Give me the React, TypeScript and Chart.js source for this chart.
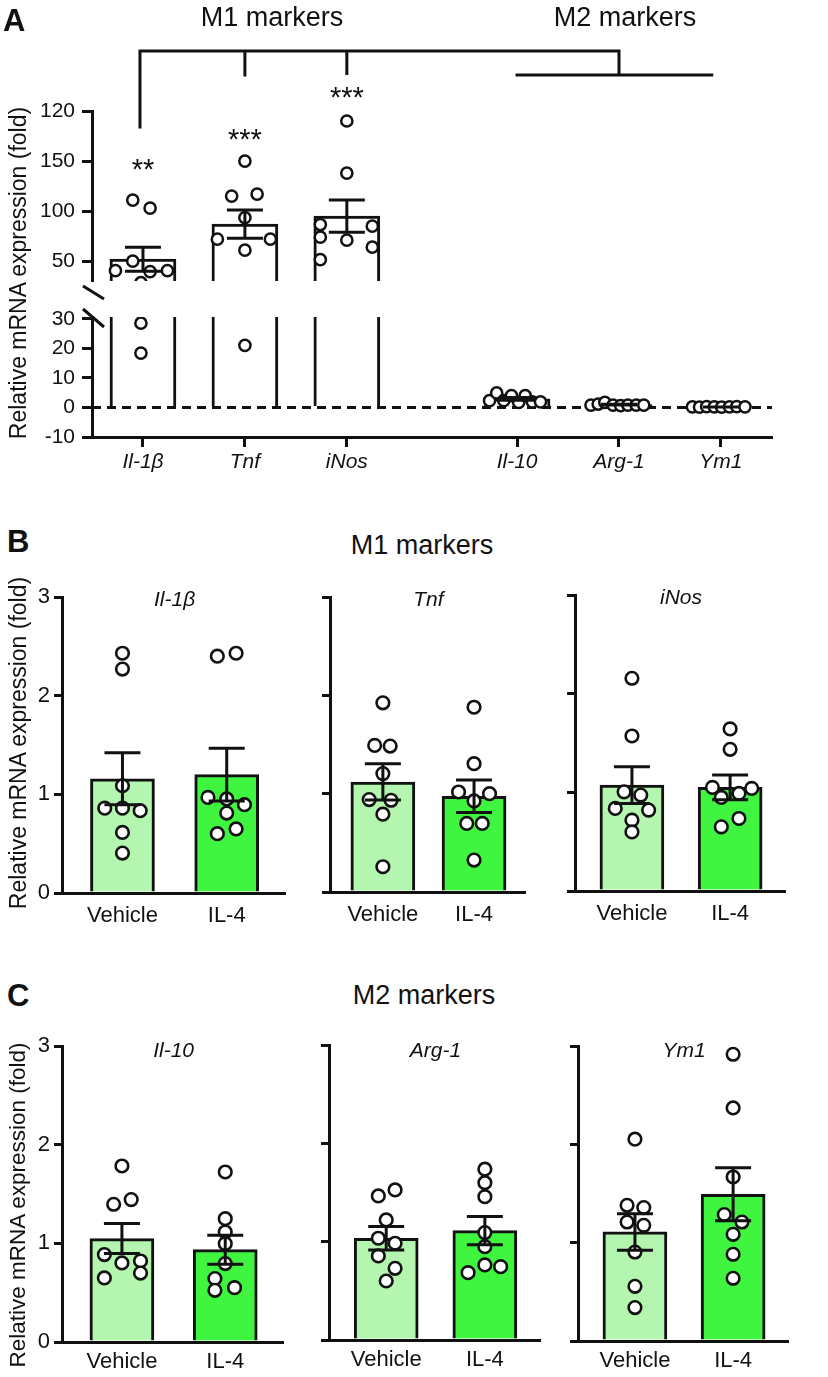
import React, { useEffect, useRef } from 'react';
import { Chart, registerables } from 'chart.js';

Chart.register(...registerables);

const FONT = '"Liberation Sans", Arial, Helvetica, sans-serif';
const INK = '#111111';
const VEHICLE_FILL = '#b4f6af';
const IL4_FILL = '#40f540';

// ---------------- Panel A data ----------------
const genesA = ['Il-1β', 'Tnf', 'iNos', 'Il-10', 'Arg-1', 'Ym1'];
const geneSlotsA = [1, 2, 3, 4.67, 5.67, 6.67];
const meansA = [52, 87, 95, 2.9, 0.93, 0.15];
const semsA = [12, 14, 16, 0.45, 0.12, 0.03];
const il1bA = [111, 103, 50, 40.5, 39.5, 40.5, 28.5, 18.4];
const tnfA = [150, 115, 117, 93.5, 72, 72, 61, 21];
const inosA = [190, 138, 86.6, 85, 74, 71, 64, 51.5];
const il10A = [2.3, 4.9, 2.3, 4.0, 1.7, 4.0, 1.9, 1.9];
const arg1A = [0.8, 1.15, 1.7, 0.8, 0.6, 0.8, 0.8, 0.8];
const ym1A = [0.2, 0.1, 0.3, 0.2, 0.1, 0.2, 0.3, 0.2];
const il1bJitA = [-0.1, 0.07, -0.1, -0.27, 0.07, 0.24, -0.02, -0.02];
const tnfJitA = [0, -0.13, 0.12, 0, -0.27, 0.25, 0, 0];
const inosJitA = [0, 0, -0.26, 0.25, -0.26, 0, 0.25, -0.26];
const il10JitA = [-0.27, -0.2, -0.13, -0.055, 0.016, 0.08, 0.15, 0.23];
const arg1JitA = [-0.275, -0.204, -0.139, -0.058, 0.016, 0.087, 0.169, 0.243];
const ym1JitA = [-0.28, -0.21, -0.14, -0.065, 0.007, 0.084, 0.155, 0.236];
const upperTicksA = [50, 100, 150, 200];
const upperTickLabelsA = ['50', '100', '150', '120'];
const lowerTicksA = [-10, 0, 10, 20, 30];
const starsA = ['**', '***', '***'];
const starLevelsA = [148.5, 179, 220];
const bracketTopLevelA = 260;
const bracketDropLevelsA = [184, 236, 237.5];
const m2BracketLevelA = 236;
const m2BracketEndSlotA = 6.58;

// ---------------- Panels B & C data ----------------
const groupsBC = ['Vehicle', 'IL-4'];
const groupSlotsBC = [1, 2];
const yTicksBC = [0, 1, 2, 3];

const il1bB_vehicle = [2.43, 2.27, 1.087, 0.86, 0.86, 0.834, 0.614, 0.405];
const il1bB_il4 = [2.4, 2.43, 0.969, 0.953, 0.895, 0.81, 0.649, 0.601];
const il1bB_vehJit = [0, 0, 0, -0.17, 0, 0.17, 0, 0];
const il1bB_il4Jit = [-0.09, 0.09, -0.18, 0, 0.17, 0, 0.09, -0.09];
const il1bB_mean = [1.158, 1.199];
const il1bB_sem = [0.264, 0.267];

const tnfB_vehicle = [1.924, 1.491, 1.484, 1.204, 0.94, 0.933, 0.791, 0.257];
const tnfB_il4 = [1.879, 1.305, 1.017, 1.0, 0.926, 0.697, 0.697, 0.325];
const tnfB_vehJit = [0, -0.09, 0.08, 0, -0.15, 0.09, 0, 0];
const tnfB_il4Jit = [0, 0, -0.17, 0.17, 0, -0.08, 0.09, 0];
const tnfB_mean = [1.119, 0.974];
const tnfB_sem = [0.184, 0.166];

const inosB_vehicle = [2.156, 1.571, 1.005, 0.972, 0.837, 0.82, 0.718, 0.599];
const inosB_il4 = [1.643, 1.436, 1.05, 1.04, 0.989, 0.948, 0.735, 0.65];
const inosB_vehJit = [0, 0, -0.08, 0.09, -0.17, 0.17, 0, 0];
const inosB_il4Jit = [0, 0, -0.18, 0.22, 0.09, -0.09, 0.09, -0.09];
const inosB_mean = [1.073, 1.05];
const inosB_sem = [0.186, 0.126];

const il10C_vehicle = [1.784, 1.443, 1.396, 0.886, 0.801, 0.821, 0.649, 0.699];
const il10C_il4 = [1.723, 1.25, 1.115, 0.997, 0.795, 0.643, 0.551, 0.524];
const il10C_vehJit = [0, 0.09, -0.08, -0.17, 0, 0.18, -0.17, 0.18];
const il10C_il4Jit = [0, 0, 0, 0, 0, -0.1, 0.09, -0.1];
const il10C_mean = [1.048, 0.936];
const il10C_sem = [0.152, 0.147];

const arg1C_vehicle = [1.526, 1.465, 1.221, 1.035, 0.984, 0.855, 0.729, 0.6];
const arg1C_il4 = [1.737, 1.6, 1.458, 1.092, 0.949, 0.763, 0.746, 0.685];
const arg1C_vehJit = [0.09, -0.08, 0, -0.08, 0.09, -0.08, 0.09, 0];
const arg1C_il4Jit = [0, 0, 0, 0, 0, 0, 0.16, -0.17];
const arg1C_mean = [1.035, 1.112];
const arg1C_sem = [0.119, 0.144];

const ym1C_vehicle = [2.052, 1.38, 1.357, 1.21, 1.176, 0.905, 0.556, 0.34];
const ym1C_il4 = [2.916, 2.37, 1.668, 1.286, 1.21, 1.085, 0.882, 0.638];
const ym1C_vehJit = [0, -0.08, 0.09, -0.08, 0.09, 0, 0, 0];
const ym1C_il4Jit = [0, 0, 0, -0.09, 0.09, 0, 0, 0];
const ym1C_mean = [1.109, 1.492];
const ym1C_sem = [0.186, 0.27];

// ---------------- helpers ----------------
const scatterPoints = (slot: number, values: number[], jitter: number[]) =>
  values.map((v, i) => ({ x: slot + jitter[i], y: v }));

const fixY = (w: number) => (s: any) => {
  s.width = w;
  s.paddingTop = 0; s.paddingBottom = 0; s.paddingLeft = 0; s.paddingRight = 0;
};
const fixX = (h: number) => (s: any) => {
  s.height = h;
  s.paddingTop = 0; s.paddingBottom = 0; s.paddingLeft = 0; s.paddingRight = 0;
};

const axisBorder = { display: true, color: INK, width: 3 };

function errorBarsPlugin(slots: number[], means: number[], sems: number[], cap: number) {
  return {
    id: 'errorBars',
    afterDatasetsDraw(chart: any) {
      const { ctx, chartArea, scales } = chart;
      const x = scales.x, y = scales.y;
      ctx.save();
      ctx.beginPath();
      ctx.rect(chartArea.left, chartArea.top, chartArea.right - chartArea.left, chartArea.bottom - chartArea.top);
      ctx.clip();
      ctx.strokeStyle = INK;
      ctx.lineWidth = 3;
      slots.forEach((s, i) => {
        const cx = x.getPixelForValue(s);
        const hi = y.getPixelForValue(means[i] + sems[i]);
        const lo = y.getPixelForValue(means[i] - sems[i]);
        ctx.beginPath();
        ctx.moveTo(cx, hi); ctx.lineTo(cx, lo);
        ctx.moveTo(cx - cap, hi); ctx.lineTo(cx + cap, hi);
        ctx.moveTo(cx - cap, lo); ctx.lineTo(cx + cap, lo);
        ctx.stroke();
      });
      ctx.restore();
    },
  };
}

function geneTitlePlugin(text: string, offset: number) {
  return {
    id: 'geneTitle',
    afterDraw(chart: any) {
      const { ctx, chartArea, scales } = chart;
      const cx = scales.x.getPixelForValue((groupSlotsBC[0] + groupSlotsBC[1]) / 2);
      ctx.save();
      ctx.font = `italic 21px ${FONT}`;
      ctx.fillStyle = INK;
      ctx.textAlign = 'center';
      ctx.textBaseline = 'alphabetic';
      ctx.fillText(text, cx, chartArea.top + offset);
      ctx.restore();
    },
  };
}

const zeroLinePlugin = {
  id: 'zeroLine',
  afterDatasetDraw(chart: any, args: any) {
    if (args.meta.type !== 'bar') return;
    const { ctx, chartArea, scales } = chart;
    const py = scales.y.getPixelForValue(0);
    ctx.save();
    ctx.strokeStyle = INK;
    ctx.lineWidth = 3;
    ctx.setLineDash([9, 6]);
    ctx.beginPath();
    ctx.moveTo(chartArea.left, py);
    ctx.lineTo(chartArea.right, py);
    ctx.stroke();
    ctx.restore();
  },
};

const breakMarksPlugin = {
  id: 'breakMarks',
  afterDraw(chart: any) {
    const { ctx, chartArea } = chart;
    const l = chartArea.left, t = chartArea.top;
    ctx.save();
    ctx.strokeStyle = INK;
    ctx.lineWidth = 3;
    ctx.beginPath();
    ctx.moveTo(l - 9, t - 31); ctx.lineTo(l + 12, t - 18);
    ctx.moveTo(l - 9, t - 8); ctx.lineTo(l + 12, t + 10);
    ctx.stroke();
    ctx.restore();
  },
};

const bracketsPlugin = {
  id: 'brackets',
  afterDraw(chart: any) {
    const { ctx, scales } = chart;
    const x = scales.x, y = scales.y;
    const top = y.getPixelForValue(bracketTopLevelA);
    const m2Level = y.getPixelForValue(m2BracketLevelA);
    const m2Center = x.getPixelForValue((geneSlotsA[3] + m2BracketEndSlotA + 0.09) / 2);
    ctx.save();
    ctx.strokeStyle = INK;
    ctx.lineWidth = 3;
    ctx.lineCap = 'square';
    ctx.beginPath();
    ctx.moveTo(x.getPixelForValue(geneSlotsA[0]) - 3, top);
    ctx.lineTo(m2Center, top);
    for (let i = 0; i < 3; i++) {
      const px = x.getPixelForValue(geneSlotsA[i]) - (i === 0 ? 3 : 0);
      ctx.moveTo(px, top);
      ctx.lineTo(px, y.getPixelForValue(bracketDropLevelsA[i]));
    }
    ctx.moveTo(m2Center, top);
    ctx.lineTo(m2Center, m2Level);
    ctx.moveTo(x.getPixelForValue(geneSlotsA[3]), m2Level);
    ctx.lineTo(x.getPixelForValue(m2BracketEndSlotA), m2Level);
    ctx.stroke();
    ctx.fillStyle = INK;
    ctx.font = `29px ${FONT}`;
    ctx.textAlign = 'center';
    ctx.textBaseline = 'alphabetic';
    starsA.forEach((s, i) => {
      ctx.fillText(s, x.getPixelForValue(geneSlotsA[i]), y.getPixelForValue(starLevelsA[i]) + 16.5);
    });
    ctx.restore();
  },
};

// ---------------- chart configs ----------------
const tickFontA = { family: FONT, size: 21 };
const tickFontBC = { family: FONT, size: 22 };

function buildA(lower: boolean, g: any) {
  const groupsVals = [il1bA, tnfA, inosA, il10A, arg1A, ym1A];
  const groupsJit = [il1bJitA, tnfJitA, inosJitA, il10JitA, arg1JitA, ym1JitA];
  const points = groupsVals.flatMap((vals, k) => scatterPoints(geneSlotsA[k], vals, groupsJit[k]));
  return {
    type: 'bar',
    data: {
      datasets: [
        {
          type: 'scatter', order: 1, clip: 0, data: points,
          pointRadius: 5.6, pointHoverRadius: 5.6, pointBorderWidth: 2.5,
          pointBackgroundColor: '#ffffff', pointBorderColor: INK,
        },
        {
          type: 'bar', order: 2, clip: 0,
          data: geneSlotsA.map((s, i) => ({ x: s, y: meansA[i] })),
          backgroundColor: '#ffffff', borderColor: INK, borderWidth: 3,
          barThickness: 66, borderSkipped: 'start',
        },
      ],
    },
    options: {
      responsive: false, animation: false, events: [],
      layout: { padding: { top: g.padTop, right: g.padRight, left: 0, bottom: 0 } },
      plugins: { legend: { display: false }, tooltip: { enabled: false } },
      scales: {
        x: {
          type: 'linear', min: 0.5, max: 7.17, offset: false, display: lower,
          afterBuildTicks: (s: any) => { s.ticks = geneSlotsA.map((v) => ({ value: v })); },
          ticks: {
            autoSkip: false, maxRotation: 0, padding: 3, color: INK,
            font: { ...tickFontA, style: 'italic' },
            callback: (_v: any, i: number) => genesA[i],
          },
          grid: { display: true, offset: false, drawOnChartArea: false, drawTicks: true, tickLength: 10, lineWidth: 3, color: INK },
          border: axisBorder,
          afterFit: fixX(g.xHeight),
        },
        y: {
          type: 'linear',
          min: lower ? -10 : 30.3,
          max: lower ? 30.6 : 200,
          afterBuildTicks: (s: any) => { s.ticks = (lower ? lowerTicksA : upperTicksA).map((v) => ({ value: v })); },
          ticks: {
            padding: 7, color: INK, font: tickFontA,
            callback: (v: any, i: number) => (lower ? String(lowerTicksA[i]) : upperTickLabelsA[i]),
          },
          grid: { display: true, drawOnChartArea: false, drawTicks: true, tickLength: 10, lineWidth: 3, color: INK },
          border: axisBorder,
          afterFit: fixY(g.yWidth),
        },
      },
    },
    plugins: lower
      ? [zeroLinePlugin, errorBarsPlugin(geneSlotsA, meansA, semsA, 18), breakMarksPlugin]
      : [errorBarsPlugin(geneSlotsA, meansA, semsA, 18), bracketsPlugin],
  };
}

function buildSub(p: any, g: any) {
  return {
    type: 'bar',
    data: {
      datasets: [
        {
          type: 'scatter', order: 1,
          data: [
            ...scatterPoints(groupSlotsBC[0], p.veh, p.vehJit),
            ...scatterPoints(groupSlotsBC[1], p.il4, p.il4Jit),
          ],
          pointRadius: 6.3, pointHoverRadius: 6.3, pointBorderWidth: 2.6,
          pointBackgroundColor: '#ffffff', pointBorderColor: INK,
        },
        {
          type: 'bar', order: 2,
          data: groupSlotsBC.map((s, i) => ({ x: s, y: p.mean[i] })),
          backgroundColor: [VEHICLE_FILL, IL4_FILL], borderColor: INK, borderWidth: 3,
          barThickness: 64, borderSkipped: 'start',
        },
      ],
    },
    options: {
      responsive: false, animation: false, events: [],
      layout: { padding: { top: g.padTop, right: 2, left: 0, bottom: 0 } },
      plugins: { legend: { display: false }, tooltip: { enabled: false } },
      scales: {
        x: {
          type: 'linear', min: 0.42, max: 2.56, offset: false,
          afterBuildTicks: (s: any) => { s.ticks = groupSlotsBC.map((v) => ({ value: v })); },
          ticks: {
            autoSkip: false, maxRotation: 0, padding: g.labelPad, color: INK, font: tickFontBC,
            callback: (_v: any, i: number) => groupsBC[i],
          },
          grid: { display: false, offset: false, drawTicks: false },
          border: axisBorder,
          afterFit: fixX(g.xHeight),
        },
        y: {
          type: 'linear', min: 0, max: 3,
          afterBuildTicks: (s: any) => { s.ticks = yTicksBC.map((v) => ({ value: v })); },
          ticks: { display: g.showLabels, padding: 4, color: INK, font: tickFontBC, callback: (v: any) => String(v) },
          grid: { display: true, drawOnChartArea: false, drawTicks: true, tickLength: 8, lineWidth: 3, color: INK },
          border: axisBorder,
          afterFit: fixY(g.yWidth),
        },
      },
    },
    plugins: [errorBarsPlugin(groupSlotsBC, p.mean, p.sem, 18), geneTitlePlugin(p.gene, g.titleOffset)],
  };
}

// ---------------- components ----------------
function ChartCanvas({ left, top, width, height, build }: any) {
  const ref = useRef<HTMLCanvasElement | null>(null);
  useEffect(() => {
    const chart = new Chart(ref.current as HTMLCanvasElement, build() as any);
    return () => chart.destroy();
  }, []);
  return (
    <canvas
      ref={ref}
      width={width}
      height={height}
      style={{ position: 'absolute', left, top, width, height }}
    />
  );
}

function Txt({ x, base, size, bold, center, children }: any) {
  return (
    <div
      style={{
        position: 'absolute',
        left: x,
        top: base - 0.8465 * size,
        fontFamily: FONT,
        fontSize: size,
        lineHeight: `${size}px`,
        fontWeight: bold ? 'bold' : 'normal',
        color: INK,
        whiteSpace: 'nowrap',
        transform: center ? 'translateX(-50%)' : undefined,
      }}
    >
      {children}
    </div>
  );
}

function VTitle({ cx, cy, size }: any) {
  return (
    <div
      style={{
        position: 'absolute',
        left: cx,
        top: cy,
        fontFamily: FONT,
        fontSize: size,
        lineHeight: `${size}px`,
        color: INK,
        whiteSpace: 'nowrap',
        transform: 'translate(-50%, -50%) rotate(-90deg)',
      }}
    >
      Relative mRNA expression (fold)
    </div>
  );
}

const subPanels = [
  { p: { gene: 'Il-1β', veh: il1bB_vehicle, il4: il1bB_il4, vehJit: il1bB_vehJit, il4Jit: il1bB_il4Jit, mean: il1bB_mean, sem: il1bB_sem },
    g: { left: 0, top: 582, width: 294, height: 351, padTop: 15, yWidth: 62, xHeight: 40, labelPad: 10, showLabels: true, titleOffset: 9 } },
  { p: { gene: 'Tnf', veh: tnfB_vehicle, il4: tnfB_il4, vehJit: tnfB_vehJit, il4Jit: tnfB_il4Jit, mean: tnfB_mean, sem: tnfB_sem },
    g: { left: 310, top: 582, width: 224, height: 350, padTop: 15, yWidth: 20, xHeight: 40, labelPad: 10, showLabels: false, titleOffset: 9 } },
  { p: { gene: 'iNos', veh: inosB_vehicle, il4: inosB_il4, vehJit: inosB_vehJit, il4Jit: inosB_il4Jit, mean: inosB_mean, sem: inosB_sem },
    g: { left: 555, top: 580, width: 239, height: 351, padTop: 15, yWidth: 20, xHeight: 40, labelPad: 10, showLabels: false, titleOffset: 9 } },
  { p: { gene: 'Il-10', veh: il10C_vehicle, il4: il10C_il4, vehJit: il10C_vehJit, il4Jit: il10C_il4Jit, mean: il10C_mean, sem: il10C_sem },
    g: { left: 0, top: 1031, width: 292, height: 346, padTop: 15, yWidth: 62, xHeight: 35, labelPad: 7, showLabels: true, titleOffset: 10.5 } },
  { p: { gene: 'Arg-1', veh: arg1C_vehicle, il4: arg1C_il4, vehJit: arg1C_vehJit, il4Jit: arg1C_il4Jit, mean: arg1C_mean, sem: arg1C_sem },
    g: { left: 309, top: 1030, width: 240, height: 345, padTop: 15, yWidth: 20, xHeight: 35, labelPad: 7, showLabels: false, titleOffset: 11.5 } },
  { p: { gene: 'Ym1', veh: ym1C_vehicle, il4: ym1C_il4, vehJit: ym1C_vehJit, il4Jit: ym1C_il4Jit, mean: ym1C_mean, sem: ym1C_sem },
    g: { left: 558, top: 1031, width: 239, height: 345, padTop: 15, yWidth: 20, xHeight: 35, labelPad: 7, showLabels: false, titleOffset: 10.5 } },
];

const upperGeoA = { padTop: 111, padRight: 2, yWidth: 92, xHeight: 0 };
const lowerGeoA = { padTop: 37, padRight: 2, yWidth: 92, xHeight: 45 };

export default function App() {
  return (
    <div style={{ position: 'absolute', left: 0, top: 0, width: 828, height: 1377, overflow: 'hidden', background: '#ffffff' }}>
      <ChartCanvas left={0} top={0} width={780} height={289} build={() => buildA(false, upperGeoA)} />
      <ChartCanvas left={0} top={280} width={780} height={202} build={() => buildA(true, lowerGeoA)} />
      {subPanels.map((sp, i) => (
        <ChartCanvas key={i} left={sp.g.left} top={sp.g.top} width={sp.g.width} height={sp.g.height} build={() => buildSub(sp.p, sp.g)} />
      ))}

      <Txt x={3} base={31.5} size={31} bold>A</Txt>
      <Txt x={272} base={26.7} size={27} center>M1 markers</Txt>
      <Txt x={625} base={26.7} size={27} center>M2 markers</Txt>
      <Txt x={7} base={552.5} size={31} bold>B</Txt>
      <Txt x={422} base={555} size={27} center>M1 markers</Txt>
      <Txt x={7} base={1006} size={31} bold>C</Txt>
      <Txt x={424} base={1005} size={27} center>M2 markers</Txt>

      <VTitle cx={18} cy={273} size={23} />
      <VTitle cx={18} cy={743} size={23} />
      <VTitle cx={18} cy={1205} size={22.5} />
    </div>
  );
}
